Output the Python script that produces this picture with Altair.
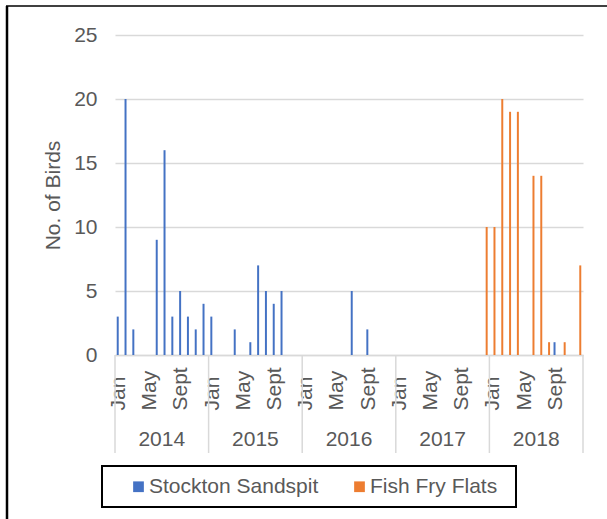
import altair as alt
import pandas as pd

years = ["2014", "2015", "2016", "2017", "2018"]
months = ["Jan", "Feb", "Mar", "Apr", "May", "Jun", "Jul", "Aug", "Sept", "Oct", "Nov", "Dec"]
shown_months = ["Jan", "May", "Sept"]
series = ["Stockton Sandspit", "Fish Fry Flats"]
colors = ["#4472C4", "#ED7D31"]

stockton = [
    3, 20, 2, 0, 0, 9, 16, 3, 5, 3, 2, 4,    # 2014
    3, 0, 0, 2, 0, 1, 7, 5, 4, 5, 0, 0,      # 2015
    0, 0, 0, 0, 0, 0, 5, 0, 2, 0, 0, 0,      # 2016
    0, 0, 0, 0, 0, 0, 0, 0, 0, 0, 0, 0,      # 2017
    0, 0, 0, 0, 0, 0, 0, 0, 1, 0, 0, 0,      # 2018
]
fishfry = [
    0, 0, 0, 0, 0, 0, 0, 0, 0, 0, 0, 0,      # 2014
    0, 0, 0, 0, 0, 0, 0, 0, 0, 0, 0, 0,      # 2015
    0, 0, 0, 0, 0, 0, 0, 0, 0, 0, 0, 0,      # 2016
    0, 0, 0, 0, 0, 0, 0, 0, 0, 0, 0, 10,     # 2017
    10, 20, 19, 19, 0, 14, 14, 1, 0, 1, 0, 7,  # 2018
]
y_ticks = [0, 5, 10, 15, 20, 25]

n = len(years) * len(months)
rows = []
for i in range(n):
    rows.append({"idx": i, "series": series[0], "birds": stockton[i]})
    rows.append({"idx": i, "series": series[1], "birds": fishfry[i]})
df = pd.DataFrame(rows)

label_arr = "[" + ",".join("'%s'" % (m if m in shown_months else "") for m in months) + "]"
label_expr = label_arr + "[datum.value % 12]"

GRAY = "#D9D9D9"
TXT = "#595959"
FONT = "Liberation Sans"

xscale = alt.Scale(domain=list(range(n)), paddingInner=0, paddingOuter=0)

bars = alt.Chart(df).mark_bar().encode(
    x=alt.X("idx:O", scale=xscale, title=None,
            axis=alt.Axis(labelExpr=label_expr, labelAngle=270, labelAlign="left",
                          labelBaseline="middle", labelPadding=55, ticks=False,
                          labelFontSize=21, labelColor=TXT, labelFont=FONT,
                          domainColor=GRAY, domainWidth=1.5, grid=False,
                          labelOverlap=False)),
    xOffset=alt.XOffset("series:N", scale=alt.Scale(domain=series, paddingInner=0.15, paddingOuter=0.74)),
    y=alt.Y("birds:Q", scale=alt.Scale(domain=[0, 25], nice=False),
            axis=alt.Axis(values=y_ticks, title="No. of Birds", ticks=False, domain=False,
                          labelFontSize=21, labelColor=TXT, labelFont=FONT, labelPadding=18,
                          titleFontSize=21, titleColor=TXT, titleFont=FONT,
                          titleFontWeight="normal", titlePadding=10,
                          gridColor=GRAY, gridWidth=1.5)),
    color=alt.Color("series:N", scale=alt.Scale(domain=series, range=colors),
                    legend=alt.Legend(title=None, orient="none", legendX=13, legendY=441,
                                      direction="horizontal", symbolType="square",
                                      symbolSize=115, symbolStrokeWidth=0,
                                      labelFontSize=21, labelColor=TXT, labelFont=FONT,
                                      labelOffset=0, columnPadding=30, labelLimit=400)),
)

year_df = pd.DataFrame({"year": years, "idx": [12 * i + 6 for i in range(len(years))]})
year_text = alt.Chart(year_df).mark_text(fontSize=21, color=TXT, font=FONT, baseline="middle").encode(
    x=alt.X("idx:O", bandPosition=0, scale=xscale),
    y=alt.value(405),
    text="year:N",
)

sep_df = pd.DataFrame({"idx": [12 * i for i in range(len(years))]})
seps = alt.Chart(sep_df).mark_rule(color=GRAY, strokeWidth=1.5).encode(
    x=alt.X("idx:O", bandPosition=0, scale=xscale),
    y=alt.value(320), y2=alt.value(418),
)
end_df = pd.DataFrame({"idx": [n - 1]})
sep_end = alt.Chart(end_df).mark_rule(color=GRAY, strokeWidth=1.5).encode(
    x=alt.X("idx:O", bandPosition=1, scale=xscale),
    y=alt.value(320), y2=alt.value(418),
)

one = pd.DataFrame({"k": [0]})
legend_box = alt.Chart(one).mark_rect(fill="transparent", stroke="black", strokeWidth=2).encode(
    x=alt.value(-13), x2=alt.value(401), y=alt.value(431), y2=alt.value(472)
)
frame_left = alt.Chart(one).mark_rule(color="black", strokeWidth=2.5).encode(
    x=alt.value(-108), y=alt.value(-29), y2=alt.value(484)
)
frame_top = alt.Chart(one).mark_rule(color="black", strokeWidth=1.5).encode(
    x=alt.value(-109), x2=alt.value(492), y=alt.value(-29)
)

chart = alt.layer(bars, year_text, seps, sep_end, legend_box, frame_left, frame_top).properties(
    width=468, height=320,
    background="white",
    autosize=alt.AutoSizeParams(type="none"),
    padding={"left": 115, "top": 35, "right": 24, "bottom": 164},
).configure_view(strokeWidth=0, stroke="transparent")

chart.save("out.html", embed_options={"renderer": "svg", "actions": False})
